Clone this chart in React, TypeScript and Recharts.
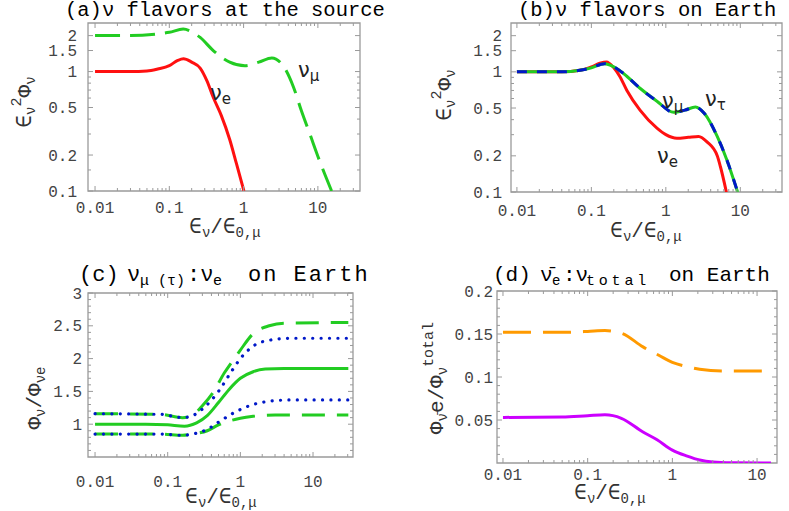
import React from 'react';
import { LineChart, Line, XAxis, YAxis, ReferenceArea } from 'recharts';

type P = [number, number][];

// ---- (a) flavors at the source ----
const srcNuE: P = [[0.01, 1], [0.03, 1], [0.05, 1.01], [0.07, 1.05], [0.1, 1.12], [0.13, 1.24], [0.155, 1.28], [0.2, 1.2], [0.26, 1.07], [0.32, 0.84], [0.39, 0.61], [0.5, 0.43], [0.65, 0.27], [0.8, 0.17], [1.01, 0.1]];
const srcNuMu: P = [[0.01, 2], [0.03, 2], [0.067, 2.06], [0.1, 2.13], [0.154, 2.27], [0.2, 2.15], [0.26, 1.93], [0.39, 1.5], [0.65, 1.2], [1.04, 1.12], [1.6, 1.2], [2.4, 1.3], [3.4, 1.12], [4.7, 0.74], [6.0, 0.47], [7.8, 0.3], [10.5, 0.18], [15.3, 0.1]];

// ---- (b) flavors on Earth ----
const earthNuE: P = [[0.01, 1], [0.04, 1], [0.07, 1.03], [0.1, 1.1], [0.13, 1.18], [0.16, 1.21], [0.2, 1.08], [0.24, 0.92], [0.3, 0.7], [0.45, 0.48], [0.76, 0.34], [1.0, 0.3], [1.41, 0.28], [2.0, 0.285], [2.75, 0.29], [3.6, 0.26], [4.9, 0.2], [5.4, 0.163], [6.5, 0.1]];
const earthNuMuTau: P = [[0.01, 1], [0.04, 1], [0.07, 1.03], [0.1, 1.08], [0.15, 1.17], [0.2, 1.1], [0.27, 0.97], [0.45, 0.73], [0.76, 0.57], [1.27, 0.46], [1.8, 0.48], [2.5, 0.51], [3.3, 0.45], [4.9, 0.29], [6.6, 0.185], [9.2, 0.1]];

// ---- (c) nu_mu(tau) : nu_e ratio ----
const ratioMid: P = [[0.01, 1.0], [0.05, 1.0], [0.1, 0.99], [0.17, 0.97], [0.25, 1.02], [0.35, 1.13], [0.5, 1.33], [0.7, 1.53], [1.0, 1.7], [1.5, 1.8], [2.2, 1.84], [4, 1.85], [30.6, 1.85]];
const ratioDashHi: P = [[0.01, 1.16], [0.08, 1.15], [0.16, 1.1], [0.22, 1.14], [0.3, 1.28], [0.42, 1.48], [0.6, 1.78], [0.8, 1.98], [1.0, 2.13], [1.5, 2.38], [2.5, 2.5], [4, 2.54], [30.6, 2.55]];
const ratioDotHi: P = [[0.01, 1.16], [0.08, 1.15], [0.16, 1.1], [0.22, 1.13], [0.3, 1.23], [0.5, 1.5], [0.75, 1.8], [1.0, 2.0], [1.5, 2.19], [2.5, 2.28], [5, 2.31], [30.6, 2.31]];
const ratioDotLo: P = [[0.01, 0.85], [0.08, 0.85], [0.16, 0.83], [0.22, 0.85], [0.35, 0.92], [0.5, 1.03], [0.8, 1.17], [1.5, 1.3], [2.5, 1.35], [5, 1.37], [30.6, 1.37]];
const ratioDashLo: P = [[0.01, 0.85], [0.08, 0.85], [0.16, 0.83], [0.22, 0.85], [0.35, 0.9], [0.5, 0.99], [1.0, 1.09], [1.5, 1.12], [3, 1.14], [30.6, 1.14]];

// ---- (d) anti-nu_e : nu_total ----
const antiDashed: P = [[0.01, 0.152], [0.05, 0.152], [0.1, 0.153], [0.16, 0.154], [0.25, 0.151], [0.45, 0.135], [0.7, 0.125], [1.0, 0.117], [1.5, 0.112], [2.1, 0.109], [4, 0.107], [12, 0.107]];
const antiSolid: P = [[0.01, 0.053], [0.05, 0.0535], [0.1, 0.055], [0.16, 0.056], [0.25, 0.052], [0.45, 0.036], [0.66, 0.027], [1.0, 0.015], [1.5, 0.008], [2.1, 0.0035], [3, 0.0012], [5, 0.0003], [14.6, 0]];

// ---- ticks ----
const xMajorVals = [0.01, 0.1, 1, 10];
const xMajorLabels = ['0.01', '0.1', '1', '10'];
const xTicksLong = [0.01, 0.02, 0.03, 0.04, 0.05, 0.06, 0.07, 0.08, 0.09, 0.1, 0.2, 0.3, 0.4, 0.5, 0.6, 0.7, 0.8, 0.9, 1, 2, 3, 4, 5, 6, 7, 8, 9, 10, 20, 30];
const xTicksShort = [0.01, 0.02, 0.03, 0.04, 0.05, 0.06, 0.07, 0.08, 0.09, 0.1, 0.2, 0.3, 0.4, 0.5, 0.6, 0.7, 0.8, 0.9, 1, 2, 3, 4, 5, 6, 7, 8, 9, 10];
const yLogTicks = [0.1, 0.15, 0.2, 0.3, 0.4, 0.5, 0.6, 0.7, 0.8, 0.9, 1, 1.5, 2];
const yLogMajorVals = [0.1, 0.2, 0.5, 1, 1.5, 2];
const yLogMajorLabels = ['0.1', '0.2', '0.5', '1', '1.5', '2'];
const yRatioTicks = [0.6, 0.7, 0.8, 0.9, 1, 1.1, 1.2, 1.3, 1.4, 1.5, 1.6, 1.7, 1.8, 1.9, 2, 2.1, 2.2, 2.3, 2.4, 2.5, 2.6, 2.7, 2.8, 2.9, 3];
const yRatioMajorVals = [1, 1.5, 2, 2.5, 3];
const yRatioMajorLabels = ['1', '1.5', '2', '2.5', '3'];
const yFracTicks = [0.01, 0.02, 0.03, 0.04, 0.05, 0.06, 0.07, 0.08, 0.09, 0.1, 0.11, 0.12, 0.13, 0.14, 0.15, 0.16, 0.17, 0.18, 0.19, 0.2];
const yFracMajorVals = [0.05, 0.1, 0.15, 0.2];
const yFracMajorLabels = ['0.05', '0.1', '0.15', '0.2'];

const RED = '#ff1010';
const GREEN = '#22cc22';
const BLUE = '#0018c8';
const ORANGE = '#ff9a00';
const MAGENTA = '#cc00ff';
const FRAME = '#9a9a9a';
const MONO = "'Liberation Mono', 'DejaVu Sans Mono', monospace";
const GREEK = "'DejaVu Sans', sans-serif";

const toObj = (p: P) => p.map(([x, y]) => ({ x, y }));

type Frame = { x1: number; x2: number; y1: number; y2: number };

function findLabel(v: number, vals: number[], labels: string[]) {
  for (let i = 0; i < vals.length; i++) {
    if (Math.abs(v - vals[i]) < 1e-9 * Math.max(1, Math.abs(v))) return labels[i];
  }
  return null;
}

interface PanelProps {
  f: Frame;
  xDomain: [number, number];
  yDomain: [number, number];
  yLog: boolean;
  xTicks: number[];
  yTicks: number[];
  yMajorVals: number[];
  yMajorLabels: string[];
  xLabOff: number;
  yLabOff: number;
  children: React.ReactNode;
}

function Panel({ f, xDomain, yDomain, yLog, xTicks, yTicks, yMajorVals, yMajorLabels, xLabOff, yLabOff, children }: PanelProps) {
  const XT = (p: any) => {
    const v = p.payload.value;
    const x = p.x;
    const lab = findLabel(v, xMajorVals, xMajorLabels);
    const len = lab ? 5 : 3;
    return (
      <g>
        <line x1={x} x2={x} y1={f.y2} y2={f.y2 - len} stroke={FRAME} strokeWidth={1} />
        <line x1={x} x2={x} y1={f.y1} y2={f.y1 + len} stroke={FRAME} strokeWidth={1} />
        {lab && (
          <text x={x} y={f.y2 + xLabOff} textAnchor="middle" fontFamily={MONO} fontSize={16} fill="#444">{lab}</text>
        )}
      </g>
    );
  };
  const YT = (p: any) => {
    const v = p.payload.value;
    const y = p.y;
    const lab = findLabel(v, yMajorVals, yMajorLabels);
    const len = lab ? 5 : 3;
    return (
      <g>
        <line x1={f.x1} x2={f.x1 + len} y1={y} y2={y} stroke={FRAME} strokeWidth={1} />
        <line x1={f.x2} x2={f.x2 - len} y1={y} y2={y} stroke={FRAME} strokeWidth={1} />
        {lab && (
          <text x={f.x1 - yLabOff} y={y + 5.5} textAnchor="end" fontFamily={MONO} fontSize={16} fill="#444">{lab}</text>
        )}
      </g>
    );
  };
  return (
    <div style={{ position: 'absolute', left: 0, top: 0 }}>
      <LineChart
        width={789}
        height={511}
        margin={{ top: f.y1, left: f.x1 - 40, right: 789 - f.x2, bottom: 511 - f.y2 - 30 }}
      >
        <XAxis
          dataKey="x"
          type="number"
          scale="log"
          domain={xDomain}
          allowDataOverflow
          ticks={xTicks}
          interval={0}
          tick={XT}
          tickLine={false}
          axisLine={false}
          height={30}
        />
        <YAxis
          type="number"
          scale={yLog ? 'log' : 'linear'}
          domain={yDomain}
          allowDataOverflow
          ticks={yTicks}
          interval={0}
          tick={YT}
          tickLine={false}
          axisLine={false}
          width={40}
        />
        <ReferenceArea
          x1={xDomain[0]}
          x2={xDomain[1]}
          y1={yDomain[0]}
          y2={yDomain[1]}
          fill="none"
          fillOpacity={0}
          stroke={FRAME}
          strokeWidth={1.3}
          ifOverflow="visible"
        />
        {children}
      </LineChart>
    </div>
  );
}

const fA: Frame = { x1: 88, x2: 360, y1: 23, y2: 191 };
const fB: Frame = { x1: 511, x2: 782, y1: 23, y2: 192 };
const fC: Frame = { x1: 88, x2: 353, y1: 293, y2: 457 };
const fD: Frame = { x1: 497, x2: 777, y1: 291, y2: 463 };

const lineBase = { type: 'monotone' as const, dataKey: 'y', dot: false, isAnimationActive: false, strokeWidth: 3 };

function XLabel({ x, y }: { x: number; y: number }) {
  return (
    <text x={x} y={y} textAnchor="middle" fontFamily={MONO} fontSize={21} fill="#333">
      ∈<tspan fontSize={14} dy={4}>ν</tspan><tspan dy={-4}>/∈</tspan><tspan fontSize={14} dy={4}>0,μ</tspan>
    </text>
  );
}

export default function App() {
  return (
    <div style={{ position: 'absolute', left: 0, top: 0, width: 789, height: 511, background: '#fff', overflow: 'hidden' }}>
      <Panel f={fA} xDomain={[0.00804, 36.9]} yDomain={[0.1, 2.55]} yLog xTicks={xTicksLong} yTicks={yLogTicks}
        yMajorVals={yLogMajorVals} yMajorLabels={yLogMajorLabels} xLabOff={22} yLabOff={11}>
        <Line {...lineBase} data={toObj(srcNuMu)} stroke={GREEN} strokeDasharray="25 10" />
        <Line {...lineBase} data={toObj(srcNuE)} stroke={RED} />
      </Panel>
      <Panel f={fB} xDomain={[0.00833, 36.3]} yDomain={[0.1, 2.55]} yLog xTicks={xTicksLong} yTicks={yLogTicks}
        yMajorVals={yLogMajorVals} yMajorLabels={yLogMajorLabels} xLabOff={24} yLabOff={9}>
        <Line {...lineBase} data={toObj(earthNuE)} stroke={RED} />
        <Line {...lineBase} data={toObj(earthNuMuTau)} stroke={GREEN} />
        <Line {...lineBase} data={toObj(earthNuMuTau)} stroke={BLUE} strokeDasharray="10 10" />
      </Panel>
      <Panel f={fC} xDomain={[0.008, 35.5]} yDomain={[0.5, 3]} yLog={false} xTicks={xTicksLong} yTicks={yRatioTicks}
        yMajorVals={yRatioMajorVals} yMajorLabels={yRatioMajorLabels} xLabOff={30} yLabOff={6}>
        <Line {...lineBase} data={toObj(ratioDashHi)} stroke={GREEN} strokeDasharray="23 12" />
        <Line {...lineBase} data={toObj(ratioDashLo)} stroke={GREEN} strokeDasharray="23 12" />
        <Line {...lineBase} data={toObj(ratioDotHi)} stroke={BLUE} strokeWidth={3.2} strokeDasharray="0.1 8.3" strokeLinecap="round" />
        <Line {...lineBase} data={toObj(ratioDotLo)} stroke={BLUE} strokeWidth={3.2} strokeDasharray="0.1 8.3" strokeLinecap="round" />
        <Line {...lineBase} data={toObj(ratioMid)} stroke={GREEN} />
      </Panel>
      <Panel f={fD} xDomain={[0.0085, 17.2]} yDomain={[0, 0.2]} yLog={false} xTicks={xTicksShort} yTicks={yFracTicks}
        yMajorVals={yFracMajorVals} yMajorLabels={yFracMajorLabels} xLabOff={17} yLabOff={4}>
        <Line {...lineBase} data={toObj(antiDashed)} stroke={ORANGE} strokeDasharray="28 12" />
        <Line {...lineBase} data={toObj(antiSolid)} stroke={MAGENTA} />
      </Panel>

      <svg width={789} height={511} style={{ position: 'absolute', left: 0, top: 0, pointerEvents: 'none' }}>
        {/* titles */}
        <text x={65} y={16} fontFamily={MONO} fontSize={20.5} fill="#000">(a)ν flavors at the source</text>
        <text x={518} y={16} fontFamily={MONO} fontSize={20.5} fill="#000">(b)ν flavors on Earth</text>
        <text y={281} fontFamily={MONO} fontSize={22} fill="#000">
          <tspan x={79}>(c)</tspan>
          <tspan x={127}>ν</tspan>
          <tspan x={140} fontSize={15} dy={4}>μ (τ)</tspan>
          <tspan x={187} dy={-4}>:ν</tspan>
          <tspan x={213} fontSize={15} dy={4}>e</tspan>
          <tspan x={248} dy={-4} letterSpacing={2}>on Earth</tspan>
        </text>
        <text y={281} fontFamily={MONO} fontSize={21} fill="#000">
          <tspan x={493}>(d)</tspan>
          <tspan x={540}>ν̄</tspan>
          <tspan x={552} fontSize={14} dy={4}>e</tspan>
          <tspan x={563} dy={-4}>:ν</tspan>
          <tspan x={586} fontSize={15} dy={4} letterSpacing={3.8}>total</tspan>
          <tspan x={669} dy={-4}>on Earth</tspan>
        </text>

        {/* x axis labels */}
        <XLabel x={225} y={233} />
        <XLabel x={646} y={237} />
        <XLabel x={221} y={503} />
        <XLabel x={610} y={499} />

        {/* y axis labels */}
        <text transform="translate(31,102) rotate(-90)" textAnchor="middle" fontFamily={MONO} fontSize={21} fill="#333">
          ∈<tspan fontSize={14} dy={4}>ν</tspan><tspan fontSize={15} dy={-14}>2</tspan><tspan dy={10}>Φ</tspan><tspan fontSize={14} dy={4}>ν</tspan>
        </text>
        <text transform="translate(451,95) rotate(-90)" textAnchor="middle" fontFamily={MONO} fontSize={21} fill="#333">
          ∈<tspan fontSize={14} dy={4}>ν</tspan><tspan fontSize={15} dy={-14}>2</tspan><tspan dy={10}>Φ</tspan><tspan fontSize={14} dy={4}>ν</tspan>
        </text>
        <text transform="translate(41,398) rotate(-90)" textAnchor="middle" fontFamily={MONO} fontSize={21} fill="#333">
          Φ<tspan fontSize={14} dy={4}>ν</tspan><tspan dy={-4}>/Φ</tspan><tspan fontSize={14} dy={4}>νe</tspan>
        </text>
        <text transform="translate(443,378) rotate(-90)" textAnchor="middle" fontFamily={MONO} fontSize={21} fill="#333">
          Φ<tspan fontSize={14} dy={4}>ν̄</tspan><tspan dy={-4}>e/Φ</tspan><tspan fontSize={14} dy={4}>ν</tspan><tspan fontSize={15} dy={-14}>total</tspan>
        </text>

        {/* curve labels */}
        <text x={210} y={100} fontFamily={GREEK} fontSize={21} fill="#222">ν<tspan fontSize={15} dy={4}>e</tspan></text>
        <text x={298} y={77} fontFamily={GREEK} fontSize={21} fill="#222">ν<tspan fontSize={15} dy={4}>μ</tspan></text>
        <text x={662} y={108} fontFamily={GREEK} fontSize={21} fill="#222">ν<tspan fontSize={15} dy={4}>μ</tspan></text>
        <text x={705} y={106} fontFamily={GREEK} fontSize={21} fill="#222">ν<tspan fontSize={15} dy={4}>τ</tspan></text>
        <text x={657} y={163} fontFamily={GREEK} fontSize={21} fill="#222">ν<tspan fontSize={15} dy={4}>e</tspan></text>
      </svg>
    </div>
  );
}
